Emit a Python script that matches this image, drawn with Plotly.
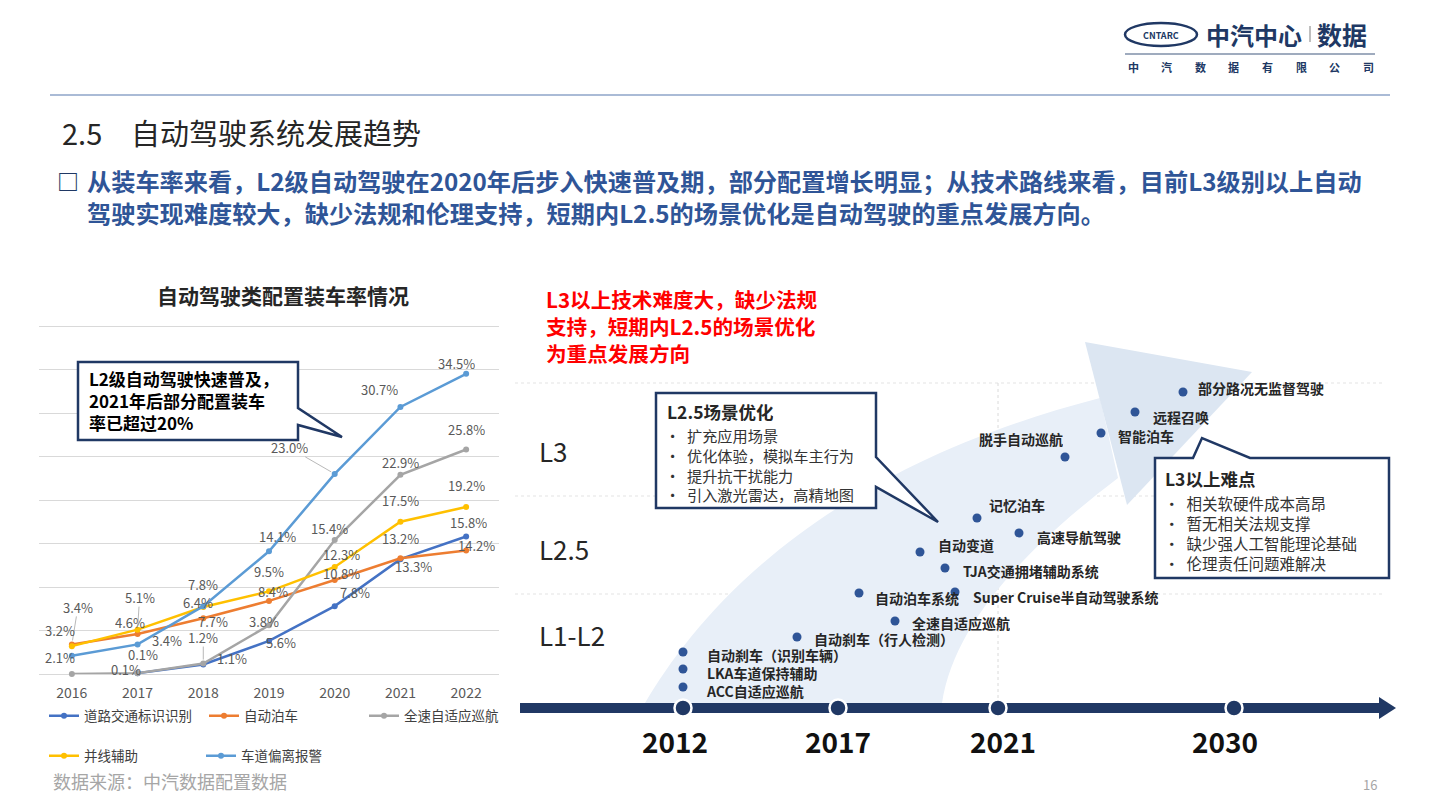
import plotly.graph_objects as go

W, H = 1440, 811
FONT = "Noto Sans CJK SC"

# ---------------- data: line chart ----------------
years = ["2016", "2017", "2018", "2019", "2020", "2021", "2022"]
series_names = ["道路交通标识识别", "自动泊车", "全速自适应巡航", "并线辅助", "车道偏离报警"]
road_sign = [None, 0.1, 1.1, 3.8, 7.8, 13.2, 15.8]
auto_parking = [3.4, 4.6, 6.4, 8.4, 10.8, 13.3, 14.2]
full_speed_acc = [0.0, 0.1, 1.2, 5.6, 15.4, 22.9, 25.8]
lane_merge = [3.2, 5.1, 7.7, 9.5, 12.3, 17.5, 19.2]
lane_departure = [2.1, 3.4, 7.8, 14.1, 23.0, 30.7, 34.5]

chart_title = "自动驾驶类配置装车率情况"
callout_lines = ["L2级自动驾驶快速普及，", "2021年后部分配置装车", "率已超过20%"]
source_text = "数据来源：中汽数据配置数据"

# ---------------- data: roadmap ----------------
timeline_years = ["2012", "2017", "2021", "2030"]
levels = ["L3", "L2.5", "L1-L2"]
features_2012 = ["自动刹车（识别车辆）", "LKA车道保持辅助", "ACC自适应巡航"]
features = ["自动刹车（行人检测）", "自动泊车系统", "全速自适应巡航", "Super Cruise半自动驾驶系统",
            "自动变道", "TJA交通拥堵辅助系统", "记忆泊车", "高速导航驾驶", "脱手自动巡航",
            "智能泊车", "远程召唤", "部分路况无监督驾驶"]
red_note = ["L3以上技术难度大，缺少法规", "支持，短期内L2.5的场景优化", "为重点发展方向"]
box25_title = "L2.5场景优化"
box25_items = ["扩充应用场景", "优化体验，模拟车主行为", "提升抗干扰能力", "引入激光雷达，高精地图"]
box3_title = "L3以上难点"
box3_items = ["相关软硬件成本高昂", "暂无相关法规支撑", "缺少强人工智能理论基础", "伦理责任问题难解决"]

page_section = "2.5"
page_title = "自动驾驶系统发展趋势"
summary_lines = ["从装车率来看，L2级自动驾驶在2020年后步入快速普及期，部分配置增长明显；从技术路线来看，目前L3级别以上自动",
                 "驾驶实现难度较大，缺少法规和伦理支持，短期内L2.5的场景优化是自动驾驶的重点发展方向。"]

# ---------------- styles / layout positions ----------------
colors = ["#4472C4", "#ED7D31", "#A5A5A5", "#FFC000", "#5B9BD5"]
legend_ids = ["legend", "legend", "legend", "legend2", "legend2"]
all_series = [road_sign, auto_parking, full_speed_acc, lane_merge, lane_departure]
# label offsets (dx px, dy px up, leader line)
label_offsets = [
    [None, (-12, 4, 0), (29, 6, 0), (-5, 19, 0), (20, 14, 0), (0, 21, 0), (2, 14, 0)],
    [(6, 37, 1), (-8, 11, 0), (-5, 16, 0), (4, 9, 0), (7, 7, 0), (13, -8, 0), (10, 5, 0)],
    [None, (5, 19, 0), (0, 26, 1), (12, -17, 0), (-5, 12, 0), (0, 12, 0), (0, 20, 0)],
    [(-12, 16, 0), (2, 32, 1), (10, -14, 0), (0, 20, 0), (7, 12, 0), (0, 21, 0), (0, 21, 0)],
    [(-12, -2, 0), (29, 4, 0), (0, 22, 0), (8, 15, 0), (-45, 26, 1), (-21, 17, 0), (-10, 10, 0)],
]

node_x = [683, 838, 998, 1234]
year_lbl_x = [675, 838, 1003, 1225]
axis_y = 708
level_pos = [(538, 450), (538, 548), (538, 634)]
dots_2012 = [(683, 652), (683, 669), (683, 687)]
feat_dot = [(797, 637), (859, 593), (895, 621), (955, 592),
            (920, 552), (945, 568), (977, 518), (1019, 533), (1065, 457), (1101, 433), (1135, 412), (1183, 392)]
feat_lbl = [(813, 639, "left"), (874, 598, "left"), (911, 623, "left"), (972, 597, "left"),
            (937, 545, "left"), (962, 571, "left"), (988, 505, "left"), (1036, 537, "left"),
            (1064, 439, "right"), (1117, 436, "left"), (1152, 417, "left"), (1197, 388, "left")]

NAVY = "#203864"
DOT = "#2F5597"
TXT = "#262626"

fig = go.Figure()

# ---- line chart traces ----
for name, vals, c, lg in zip(series_names, all_series, colors, legend_ids):
    fig.add_trace(go.Scatter(
        x=years, y=vals, name=name, mode="lines+markers",
        line=dict(color=c, width=2.5), marker=dict(color=c, size=6),
        legend=lg, hoverinfo="skip", cliponaxis=False))

# data labels (category axis -> use category index)
for vals, offs in zip(all_series, label_offsets):
    for i, (v, o) in enumerate(zip(vals, offs)):
        if v is None or o is None:
            continue
        dx, dy, leader = o
        common = dict(x=i, y=v, xref="x", yref="y", text=f"{v:.1f}%", height=15,
                      font=dict(family=FONT, size=13, color="#595959"))
        if leader:
            fig.add_annotation(**common, showarrow=True, ax=dx, ay=-dy, arrowhead=0,
                               arrowwidth=0.8, arrowcolor="#A6A6A6", standoff=4)
        else:
            fig.add_annotation(**common, showarrow=False, xshift=dx, yshift=dy)

# ---- roadmap traces (pixel space axes x2/y2) ----
all_dots = dots_2012 + feat_dot
fig.add_trace(go.Scatter(
    x=[p[0] for p in all_dots], y=[p[1] for p in all_dots], mode="markers",
    marker=dict(size=9, color=DOT), xaxis="x2", yaxis="y2", showlegend=False, hoverinfo="skip"))
fig.add_trace(go.Scatter(
    x=node_x, y=[axis_y] * len(node_x), mode="markers",
    marker=dict(size=17, color=NAVY, line=dict(color="white", width=2.5)),
    xaxis="x2", yaxis="y2", showlegend=False, hoverinfo="skip"))

shapes = []
def sh(**kw):
    kw.setdefault("xref", "x2"); kw.setdefault("yref", "y2")
    shapes.append(kw)

# header
sh(type="line", x0=50, x1=1390, y0=95, y1=95, line=dict(color="#8EA5C8", width=1.5), layer="below")
sh(type="circle", x0=1125, x1=1197, y0=23, y1=46, line=dict(color=NAVY, width=2.5), layer="below")
sh(type="line", x0=1125, x1=1375, y0=54, y1=54, line=dict(color="#7F8FA9", width=1.5), layer="below")
sh(type="line", x0=1310, x1=1310, y0=26, y1=42, line=dict(color="#7F7F7F", width=1), layer="below")

# roadmap grid (faint dotted)
for yy in [383, 496, 594]:
    sh(type="line", x0=515, x1=1382, y0=yy, y1=yy, line=dict(color="#E3E3E3", width=1, dash="dot"), layer="below")
sh(type="line", x0=998, x1=998, y0=383, y1=703, line=dict(color="#DADADA", width=1, dash="dot"), layer="below")

# big light arrow
sh(type="path", path="M 645,703 C 700,610 820,470 1100,398 L 1118,478 C 1030,545 955,620 942,703 Z",
   fillcolor="#E8EFF8", line=dict(width=0), layer="below")
sh(type="path", path="M 1085,342 L 1252,372 L 1127,505 Z",
   fillcolor="#DCE6F2", line=dict(width=0), layer="below")

# timeline bar
sh(type="rect", x0=520, x1=1381, y0=703, y1=713, fillcolor=NAVY, line=dict(width=0), layer="below")
sh(type="path", path="M 1379,697 L 1396,708 L 1379,719 Z", fillcolor=NAVY, line=dict(width=0), layer="below")

# callout boxes
sh(type="path", path="M 78,362 L 298,362 L 298,408 L 342,437 L 298,425 L 298,440 L 78,440 Z",
   fillcolor="white", line=dict(color=NAVY, width=2.5), layer="above")
sh(type="path", path="M 656,393 L 876,393 L 876,457 L 938,522 L 876,487 L 876,508 L 656,508 Z",
   fillcolor="white", line=dict(color=NAVY, width=2.5), layer="above")
sh(type="path", path="M 1155,458 L 1193,458 L 1202,438 L 1250,458 L 1389,458 L 1389,578 L 1155,578 Z",
   fillcolor="white", line=dict(color=NAVY, width=2.5), layer="above")

def txt(x, y, s, size, color=TXT, bold=False, anchor="left", yanchor="middle", height=None, align="left"):
    kw = {}
    if height is not None:
        kw["height"] = height
    fig.add_annotation(x=x, y=y, xref="x2", yref="y2", text=f"<b>{s}</b>" if bold else s,
                       showarrow=False, xanchor=anchor, yanchor=yanchor, borderpad=0, align=align,
                       font=dict(family=FONT, size=size, color=color), **kw)

# header texts
txt(1161, 35, "CNTARC", 9, color=NAVY, bold=True, anchor="center")
txt(1205, 34, "中汽中心", 24, color=NAVY, bold=True)
txt(1316, 34, "数据", 25, color=NAVY, bold=True)
for i, ch in enumerate("中汽数据有限公司"):
    txt(1133 + i * 33.6, 67, ch, 11, color=NAVY, bold=True, anchor="center")

txt(61, 132, page_section, 29, color=TXT)
txt(130, 132, page_title, 29, color=TXT)
txt(56, 180, "□", 22, color=NAVY, bold=True)
txt(86, 180, summary_lines[0], 24.2, color="#2F5597", bold=True, height=30)
txt(86, 212, summary_lines[1], 24.2, color="#2F5597", bold=True, height=30)

# line chart texts
txt(283, 295, chart_title, 21, color=TXT, bold=True, anchor="center")
txt(88, 400, "<br>".join(f"<b>{l}</b>" for l in callout_lines), 17, color="#000000")
txt(52, 781, source_text, 18, color="#A6A6A6")
txt(1370, 784, "16", 13, color="#A6A6A6", anchor="center")

# roadmap texts
txt(545, 326, "<br>".join(f"<b>{l}</b>" for l in red_note), 20.6, color="#FF0000")
for lv, (x, y) in zip(levels, level_pos):
    txt(x, y, lv, 26, color=TXT)
txt(705, 673, "<br>".join(f"<b>{n}</b>" for n in features_2012), 14, color=TXT)
for name, (x, y, a) in zip(features, feat_lbl):
    txt(x, y, name, 14, color=TXT, bold=True, anchor=a, height=16)
for yr, x in zip(timeline_years, year_lbl_x):
    txt(x, 741, yr, 28, color="#111111", bold=True, anchor="center")

txt(666, 411, box25_title, 17.5, color=TXT, bold=True, height=20)
txt(664, 464, "<br>".join("•&nbsp;&nbsp;" + it for it in box25_items), 15.2, color="#333333")
txt(1164, 478, box3_title, 17.5, color=TXT, bold=True, height=20)
txt(1163, 533, "<br>".join("•&nbsp;&nbsp;" + it for it in box3_items), 15.5, color="#333333")

leg_common = dict(orientation="h", xanchor="left", yanchor="middle", itemwidth=30,
                  entrywidthmode="pixels", bgcolor="rgba(0,0,0,0)", borderwidth=0,
                  font=dict(family=FONT, size=13.5, color="#404040"), traceorder="normal")

px_per = 348 / 40.0
fig.update_layout(
    width=W, height=H, margin=dict(l=0, r=0, t=0, b=0),
    paper_bgcolor="white", plot_bgcolor="rgba(0,0,0,0)",
    font=dict(family=FONT),
    shapes=shapes,
    showlegend=True,
    legend=dict(**leg_common, x=44 / W, y=1 - 716 / H, entrywidth=115),
    legend2=dict(**leg_common, x=44 / W, y=1 - 756 / H, entrywidth=112),
    xaxis=dict(domain=[39 / W, 499 / W], type="category", categoryorder="array", categoryarray=years,
               range=[-0.5, 6.5], showgrid=False, zeroline=False, showline=False,
               ticks="outside", ticklen=6, tickcolor="rgba(0,0,0,0)",
               tickfont=dict(family=FONT, size=14, color="#595959"), fixedrange=True),
    yaxis=dict(domain=[1 - 674 / H, 1 - (326 - 0.4 * px_per) / H], range=[0, 40.4], tick0=0, dtick=5,
               showgrid=True, gridcolor="#D9D9D9", gridwidth=1, zeroline=True, zerolinecolor="#D9D9D9",
               zerolinewidth=1, showticklabels=False, ticks="", fixedrange=True),
    xaxis2=dict(domain=[0, 1], range=[0, W], visible=False, anchor="y2", fixedrange=True),
    yaxis2=dict(domain=[0, 1], range=[H, 0], visible=False, anchor="x2", fixedrange=True),
)

fig.write_html("out.html", config={"displayModeBar": False},
               post_script="document.body.style.margin='0px';document.body.style.overflow='hidden';")
